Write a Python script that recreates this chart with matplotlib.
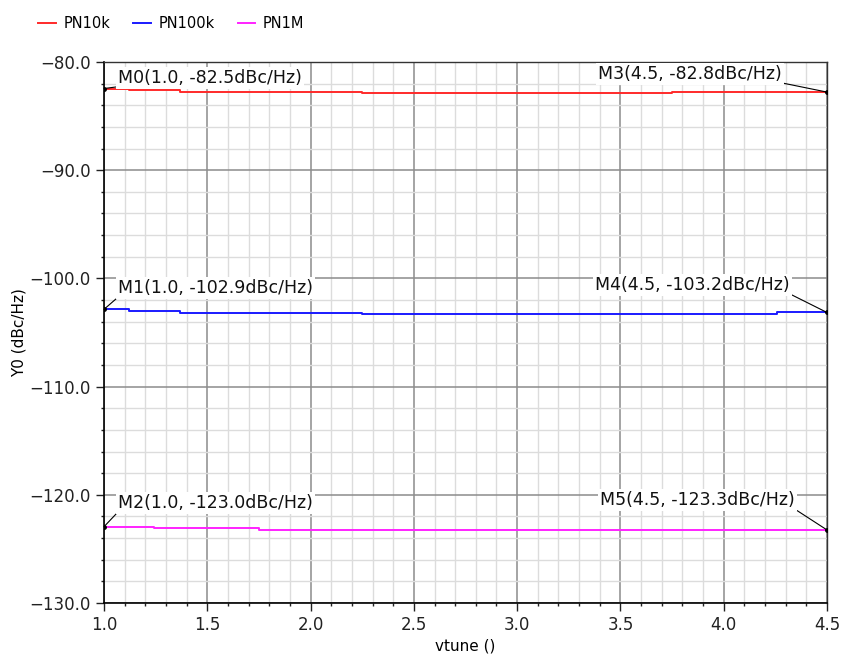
import matplotlib
matplotlib.use("Agg")
import matplotlib.pyplot as plt
from matplotlib.ticker import MultipleLocator, FuncFormatter

# Data (step-like phase noise vs vtune)
x_pn10k = [1.0, 1.12, 1.37, 2.25, 3.75, 4.5]
y_pn10k = [-82.45, -82.6, -82.75, -82.9, -82.78, -82.78]

x_pn100k = [1.0, 1.12, 1.37, 2.25, 4.26, 4.5]
y_pn100k = [-102.86, -103.04, -103.17, -103.29, -103.15, -103.15]

x_pn1m = [1.0, 1.24, 1.75, 4.5]
y_pn1m = [-122.95, -123.1, -123.25, -123.25]

# Marker annotations: label, point, text position, alignment
marker_labels = ["M0(1.0, -82.5dBc/Hz)", "M3(4.5, -82.8dBc/Hz)",
                 "M1(1.0, -102.9dBc/Hz)", "M4(4.5, -103.2dBc/Hz)",
                 "M2(1.0, -123.0dBc/Hz)", "M5(4.5, -123.3dBc/Hz)"]
marker_points = [(1.0, -82.45), (4.5, -82.78),
                 (1.0, -102.86), (4.5, -103.15),
                 (1.0, -122.95), (4.5, -123.25)]
marker_text_pos = [(1.068, -81.45), (4.282, -81.1),
                   (1.068, -100.9), (4.32, -100.6),
                   (1.068, -120.75), (4.345, -120.5)]
marker_align = ["left", "right", "left", "right", "left", "right"]

fig = plt.figure(figsize=(8.42, 6.57), dpi=100)
ax = fig.add_axes([0.1235, 0.0822, 0.8587, 0.8234])

ax.plot(x_pn10k, y_pn10k, drawstyle="steps-post", color="#ff2a2a", lw=1.4, label="PN10k")
ax.plot(x_pn100k, y_pn100k, drawstyle="steps-post", color="#1a1aff", lw=1.4, label="PN100k")
ax.plot(x_pn1m, y_pn1m, drawstyle="steps-post", color="#ff22ff", lw=1.4, label="PN1M")

for lbl, pt, tp, ha in zip(marker_labels, marker_points, marker_text_pos, marker_align):
    ax.plot(*pt, "o", color="black", ms=2.5, zorder=6)
    ax.annotate(
        lbl, xy=pt, xytext=tp, ha=ha, va="center", fontsize=12.5,
        color="#111111", zorder=5,
        bbox=dict(boxstyle="square,pad=0.12", facecolor="white", edgecolor="none"),
        arrowprops=dict(arrowstyle="-", color="black", lw=0.8,
                        shrinkA=0, shrinkB=0,
                        relpos=(0.0, 0.0) if ha == "left" else (1.0, 0.0)),
    )

ax.set_xlim(1.0, 4.5)
ax.set_ylim(-130, -80)
ax.xaxis.set_major_locator(MultipleLocator(0.5))
ax.xaxis.set_minor_locator(MultipleLocator(0.1))
ax.yaxis.set_major_locator(MultipleLocator(10))
ax.yaxis.set_minor_locator(MultipleLocator(2))
ax.xaxis.set_major_formatter(FuncFormatter(lambda v, p: f"{v:.1f}"))
ax.yaxis.set_major_formatter(FuncFormatter(lambda v, p: f"{v:.1f}".replace("-", "\u2212")))

ax.grid(which="major", color="#8c8c8c", lw=1.1)
ax.grid(which="minor", color="#dcdcdc", lw=1.0)
ax.set_axisbelow(True)

ax.tick_params(which="major", direction="out", length=6, width=1, labelsize=12, colors="#222222")
ax.tick_params(which="minor", direction="out", length=2.5, width=1, colors="#222222")
for side in ["left", "bottom"]:
    ax.spines[side].set_color("black")
    ax.spines[side].set_linewidth(1.2)
for side in ["top", "right"]:
    ax.spines[side].set_color("#333333")
    ax.spines[side].set_linewidth(1.0)

ax.set_xlabel("vtune ()", fontsize=11, labelpad=3)
ax.set_ylabel("Y0 (dBc/Hz)", fontsize=11, labelpad=2)

fig.legend(loc="upper left", bbox_to_anchor=(0.03, 0.995), ncol=3, frameon=False,
           fontsize=10.5, handlelength=1.2, handletextpad=0.5, columnspacing=1.6)

plt.savefig("out.png", dpi=100)
